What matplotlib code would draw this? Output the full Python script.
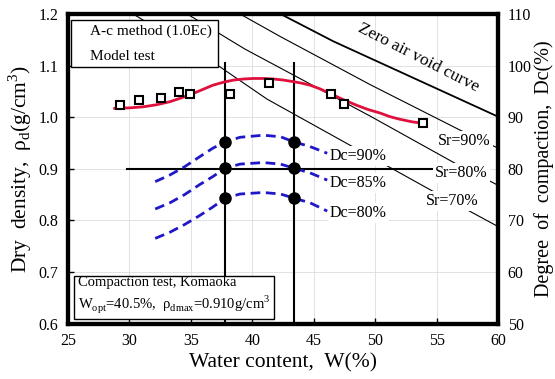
import matplotlib
matplotlib.use('Agg')
import matplotlib.pyplot as plt
from matplotlib.patches import Rectangle

plt.rcParams['font.family'] = ['Liberation Serif', 'DejaVu Serif']
plt.rcParams['mathtext.fontset'] = 'custom'
plt.rcParams['mathtext.rm'] = 'Liberation Serif'

# model test points (A-c method)
test_w = [29.2, 30.8, 32.6, 34.0, 34.9, 38.2, 41.4, 46.4, 47.5, 53.9]
test_rho = [1.024, 1.033, 1.037, 1.049, 1.045, 1.045, 1.066, 1.044, 1.025, 0.989]

# fitted red curve
fit_w = [28.8, 30.0, 31.1, 32.2, 33.3, 34.3, 35.2, 36.0, 36.8, 37.7, 38.5, 39.3, 40.1,
         40.9, 41.7, 42.5, 43.3, 44.0, 44.7, 45.5, 46.4, 47.4, 48.5, 49.4, 50.4,
         51.2, 52.0, 53.0, 53.9]
fit_rho = [1.017, 1.018, 1.020, 1.024, 1.030, 1.038, 1.046, 1.054, 1.062, 1.068, 1.072,
           1.074, 1.075, 1.075, 1.074, 1.072, 1.069, 1.066, 1.062, 1.055, 1.045, 1.034,
           1.023, 1.015, 1.008, 1.001, 0.996, 0.991, 0.988]

# Dc curves (blue dashed)
dc_w = [32.1, 33.3, 34.5, 35.7, 36.8, 37.8, 39.0, 40.9, 42.3, 43.4, 44.7, 46.1]
dc90_rho = [0.875, 0.888, 0.904, 0.923, 0.940, 0.952, 0.961, 0.965, 0.962, 0.952, 0.943, 0.930]
dc85_rho = [0.822, 0.834, 0.850, 0.869, 0.885, 0.901, 0.909, 0.912, 0.909, 0.901, 0.892, 0.878]
dc80_rho = [0.765, 0.777, 0.792, 0.809, 0.826, 0.843, 0.851, 0.854, 0.851, 0.843, 0.834, 0.818]
dot_w = [37.8, 43.4]
dot_rho = [0.952, 0.901, 0.843]

# saturation lines
zav_w = [42.3, 46.6, 60.0]
zav_rho = [1.200, 1.147, 1.001]
sr90_w = [39.0, 42.3, 49.6, 56.9, 60.0]
sr90_rho = [1.200, 1.156, 1.063, 0.975, 0.940]
sr80_w = [34.7, 39.4, 49.6, 56.4, 60.0]
sr80_rho = [1.200, 1.132, 1.002, 0.912, 0.868]
sr70_w = [30.3, 37.4, 41.2, 48.0, 54.5, 60.0]
sr70_rho = [1.200, 1.097, 1.035, 0.945, 0.859, 0.788]

x_ticks = [25, 30, 35, 40, 45, 50, 55, 60]
y_ticks = [0.6, 0.7, 0.8, 0.9, 1.0, 1.1, 1.2]
dc_ticks = [50, 60, 70, 80, 90, 100, 110]

fig = plt.figure(figsize=(5.55, 3.79), dpi=100)
ax = fig.add_axes([0.1225, 0.1464, 0.7748, 0.8167])

ax.grid(True, color='#dddddd', lw=0.6)
ax.set_axisbelow(True)

ax.plot(sr70_w, sr70_rho, color='black', lw=0.8, zorder=2)
ax.plot(sr80_w, sr80_rho, color='black', lw=0.8, zorder=2)
ax.plot(sr90_w, sr90_rho, color='black', lw=0.8, zorder=2)
ax.plot(zav_w, zav_rho, color='black', lw=1.3, zorder=2)

# guide lines
for w in dot_w:
    ax.plot([w, w], [0.6, 1.105], color='black', lw=1.5, zorder=3)
ax.plot([29.8, 54.7], [0.9, 0.9], color='black', lw=1.5, zorder=3)

blue = '#2018c8'
for r in (dc90_rho, dc85_rho, dc80_rho):
    ax.plot(dc_w, r, color=blue, lw=2, ls=(0, (3.5, 2)), zorder=4)
for r in dot_rho:
    ax.plot(dot_w, [r, r], 'o', color='black', ms=8, ls='none', zorder=5)

ax.plot(fit_w, fit_rho, color='#e0103c', lw=2, zorder=4)
ax.plot(test_w, test_rho, 's', ms=6, mfc='white', mec='black', mew=1.5, zorder=5)

white = dict(facecolor='white', edgecolor='none', pad=1.5)
fs = 11.5
ax.text(46.3, 0.925, 'Dc=90%', fontsize=fs, va='center', ha='left', bbox=white, zorder=6)
ax.text(46.3, 0.873, 'Dc=85%', fontsize=fs, va='center', ha='left', bbox=white, zorder=6)
ax.text(46.3, 0.815, 'Dc=80%', fontsize=fs, va='center', ha='left', bbox=white, zorder=6)
ax.text(55.1, 0.953, 'Sr=90%', fontsize=fs, va='center', ha='left', bbox=white, zorder=6)
ax.text(54.9, 0.891, 'Sr=80%', fontsize=fs, va='center', ha='left', bbox=white, zorder=6)
ax.text(54.1, 0.837, 'Sr=70%', fontsize=fs, va='center', ha='left', bbox=white, zorder=6)
ax.text(53.5, 1.116, 'Zero air void curve', fontsize=12.5, rotation=-27,
        rotation_mode='anchor', ha='center', va='center', zorder=6)

# legend-like box
ax.add_patch(Rectangle((0.007, 0.830), 0.341, 0.152, transform=ax.transAxes,
                       facecolor='white', edgecolor='black', lw=1, zorder=7))
ax.text(0.051, 0.945, 'A-c method (1.0Ec)', transform=ax.transAxes, fontsize=11,
        va='center', zorder=8)
ax.text(0.051, 0.862, 'Model test', transform=ax.transAxes, fontsize=11,
        va='center', zorder=8)

ax.text(25.8, 0.654,
        'Compaction test, Komaoka\n'
        r'W$_{\mathrm{opt}}$=40.5%,  ρ$_{\mathrm{dmax}}$=0.910g/cm$^3$',
        fontsize=10.5, va='center', ha='left', linespacing=1.25, zorder=8,
        bbox=dict(facecolor='white', edgecolor='black', lw=1, boxstyle='square,pad=0.25'))

ax.set_xlim(25, 60)
ax.set_ylim(0.6, 1.2)
ax.set_xticks(x_ticks)
ax.set_yticks(y_ticks)
ax.set_yticklabels(['%.1f' % v for v in y_ticks])
ax.tick_params(direction='in', length=4, width=1, labelsize=11.5, pad=7)
ax.set_xlabel('Water content,  W(%)', fontsize=15.5, labelpad=3)
ax.set_ylabel(r'Dry  density,  ρ$_{\mathrm{d}}$(g/cm$^3$)', fontsize=15.5, labelpad=3)
for s in ax.spines.values():
    s.set_linewidth(3)

ax2 = ax.twinx()
ax2.set_ylim(50, 110)
ax2.set_yticks(dc_ticks)
ax2.tick_params(length=0, labelsize=11.5, pad=7)
ax2.set_ylabel('Degree  of  compaction,  Dc(%)', fontsize=14.5, labelpad=2)
for s in ax2.spines.values():
    s.set_linewidth(3)

fig.savefig('out.png', dpi=100)
